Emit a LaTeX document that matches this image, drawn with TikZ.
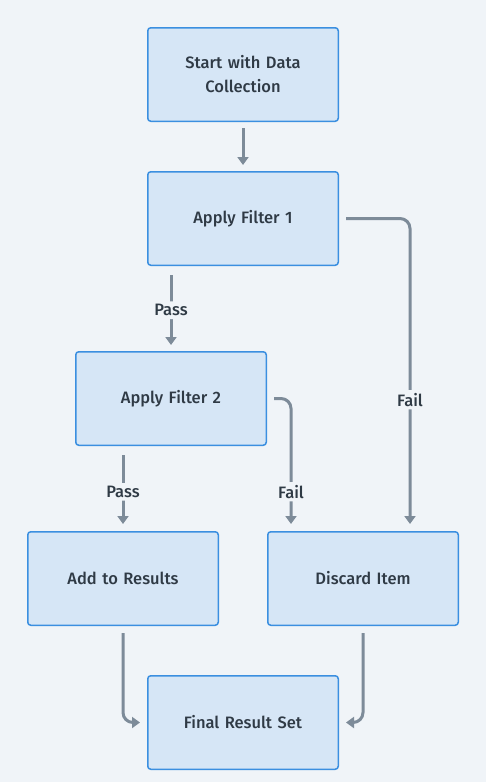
\documentclass[tikz,border=0pt]{standalone}
\usepackage{fontspec}
\setmainfont{Fira Sans}[UprightFont=* Medium]
\usetikzlibrary{arrows.meta}
\definecolor{bg}{HTML}{F0F4F8}
\definecolor{boxfill}{HTML}{D6E6F6}
\definecolor{boxborder}{HTML}{3B8FE0}
\definecolor{arr}{HTML}{7D8B99}
\definecolor{txt}{HTML}{2F3A45}
\begin{document}
\begin{tikzpicture}[x=1pt,y=-1pt,
  box/.style={draw=boxborder, fill=boxfill, line width=1.5pt, rounded corners=3pt,
    minimum width=190.5pt, minimum height=93.5pt, text width=150pt, align=center,
    font=\fontsize{16.5}{24}\selectfont, text=txt, inner sep=0pt},
  conn/.style={draw=arr, line width=3pt, -{Triangle[length=8pt,width=11pt]},
    rounded corners=10pt},
  lbl/.style={fill=bg, font=\fontsize{16.5}{18}\selectfont, text=txt, inner sep=3pt}]
\fill[bg] (0,0) rectangle (486,782);
\useasboundingbox (0,0) rectangle (486,782);
\node[box] (start) at (243,74.5) {Start with Data\\Collection};
\node[box] (f1) at (243,218.5) {Apply Filter 1};
\node[box] (f2) at (171,398.5) {Apply Filter 2};
\node[box] (add) at (123,578.5) {Add to Results};
\node[box] (disc) at (363,578.5) {Discard Item};
\node[box] (final) at (243,722.5) {Final Result Set};
\coordinate (d1) at ([xshift=47pt]disc.north);
\coordinate (d2) at ([xshift=-72pt]disc.north);
\draw[conn, shorten <=6pt, shorten >=6pt] (start.south) -- (f1.north);
\draw[conn, shorten <=9pt, shorten >=6pt] (f1.south -| f2.north) -- node[lbl, pos=0.52] {Pass} (f2.north);
\draw[conn, shorten <=7pt, shorten >=7pt] (f1.east) -| node[lbl, pos=0.79] {Fail} (d1);
\draw[conn, shorten <=9pt, shorten >=7pt] (f2.south -| add.north) -- node[lbl, pos=0.54] {Pass} (add.north);
\draw[conn, shorten <=7pt, shorten >=7pt] (f2.east) -| node[lbl, pos=0.852] {Fail} (d2);
\draw[conn, shorten <=7pt, shorten >=7pt] (add.south) |- (final.west);
\draw[conn, shorten <=7pt, shorten >=7pt] (disc.south) |- (final.east);
\end{tikzpicture}
\end{document}
